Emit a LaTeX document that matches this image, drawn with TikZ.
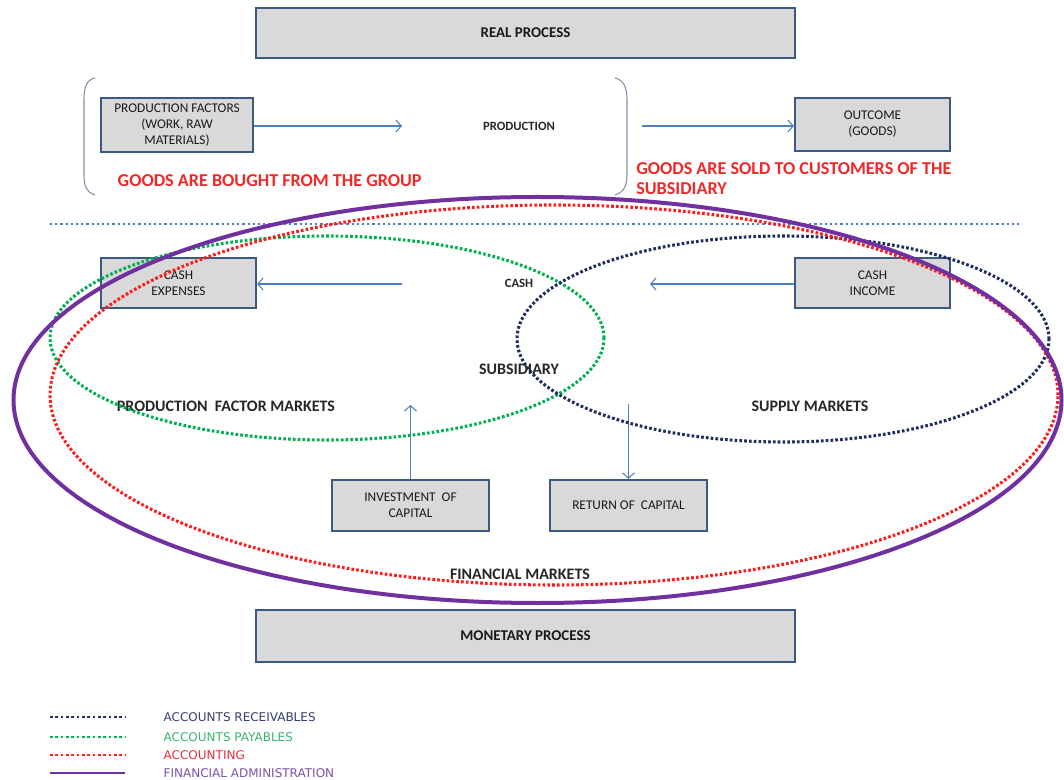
\documentclass[tikz,border=0pt]{standalone}
\usepackage{fontspec}
\setmainfont{Carlito}
\newfontfamily\legendfont{DejaVu Sans}
\usetikzlibrary{arrows.meta}

\definecolor{boxline}{HTML}{3B5A82}
\definecolor{boxfill}{HTML}{D9D9D9}
\definecolor{flowblue}{HTML}{4F81BD}
\definecolor{bracketcol}{HTML}{8090A8}
\definecolor{sepcol}{HTML}{4A7EBB}
\definecolor{recvcol}{HTML}{1F2D5C}
\definecolor{paycol}{HTML}{00B050}
\definecolor{acctcol}{HTML}{FF1A1A}
\definecolor{admincol}{HTML}{7030A0}
\definecolor{recvtxt}{HTML}{2F3F6E}
\definecolor{paytxt}{HTML}{3CB371}
\definecolor{accttxt}{HTML}{E8303A}
\definecolor{admintxt}{HTML}{7B52A8}
\definecolor{redlabel}{HTML}{F02828}

\tikzset{
  procbox/.style={draw=boxline, line width=1.6pt, fill=boxfill, inner sep=2pt,
    align=center, font=\fontsize{10}{12}\selectfont, text=black!90},
  bigbox/.style={procbox, font=\fontsize{11.2}{13}\selectfont\bfseries},
  flow/.style={draw=flowblue, line width=0.8pt, -{Straight Barb[length=4pt,width=9pt]}},
  bracket/.style={draw=bracketcol, line width=0.8pt},
  dotline/.style={line width=2.3pt, dash pattern=on 2pt off 1.6pt},
  bluelabel/.style={font=\fontsize{12}{14}\selectfont\bfseries, text=black!85},
  smalllabel/.style={font=\fontsize{9.5}{11.5}\selectfont\bfseries, text=black!85},
  redtext/.style={font=\fontsize{13.6}{15}\selectfont\bfseries, text=redlabel, align=left},
  legendtext/.style={font=\legendfont\fontsize{9}{10}\selectfont, anchor=west},
  legenddots/.style={line width=2pt, dash pattern=on 2pt off 2pt}
}

\begin{document}
\begin{tikzpicture}[x=0.75pt, y=-0.75pt]
\useasboundingbox (0,0) rectangle (1064,780);

% ---------- real process ----------
\node[bigbox, minimum width=404.25pt, minimum height=37.5pt] (real) at (525.5,33) {REAL PROCESS};

% brackets around the production step
\draw[bracket] (95,78) .. controls (86,80) and (84,88) .. (84,100) -- (84,175)
  .. controls (84,186) and (86,192) .. (95,195);
\draw[bracket] (615,78) .. controls (624,80) and (627,88) .. (627,100) -- (627,175)
  .. controls (627,186) and (624,192) .. (615,195);

\node[procbox, minimum width=114pt, minimum height=40.5pt] (pf) at (177,125)
  {PRODUCTION FACTORS\\(WORK, RAW\\MATERIALS)};
\node[smalllabel] (prod) at (519,126) {PRODUCTION};
\node[procbox, minimum width=116.25pt, minimum height=39.75pt] (outcome) at (872.5,124.5)
  {OUTCOME\\(GOODS)};

\coordinate (pfend) at (402,126);
\coordinate (outstart) at (642,126);
\draw[flow] (pf.east |- pfend) -- (pfend);
\draw[flow] (outstart) -- (outcome.west |- outstart);

\node[redtext, anchor=west] (bought) at (113,181) {GOODS ARE BOUGHT FROM THE GROUP};
\node[redtext, anchor=north west, inner sep=0pt] (sold) at (636,162)
  {GOODS ARE SOLD TO CUSTOMERS OF THE\\SUBSIDIARY};

% separator between the two processes
\coordinate (sepL) at (50,224);
\coordinate (sepR) at (1020,224);
\draw[sepcol, line width=1.7pt, dash pattern=on 1.7pt off 2.2pt] (sepL) -- (sepR);

% ---------- monetary process ----------
\node[procbox, minimum width=116.25pt, minimum height=37.5pt] (cexp) at (178.5,283)
  {CASH\\EXPENSES};
\node[procbox, minimum width=116.25pt, minimum height=37.5pt] (cinc) at (872.5,283)
  {CASH\\INCOME};
\node[smalllabel] (cash) at (519,283) {CASH};

\coordinate (cexpstart) at (402,284);
\coordinate (cincend) at (650,284);
\draw[flow] (cexpstart) -- (cexp.east |- cexpstart);
\draw[flow] (cinc.west |- cincend) -- (cincend);

\node[bluelabel] (subs) at (519,369) {SUBSIDIARY};
\node[bluelabel] (pfm) at (226,406) {PRODUCTION\ \ FACTOR MARKETS};
\node[bluelabel] (sm) at (810,406) {SUPPLY MARKETS};

\node[procbox, minimum width=117.75pt, minimum height=38.25pt] (invest) at (410.5,505.5)
  {INVESTMENT\ \ OF\\CAPITAL};
\node[procbox, minimum width=117.75pt, minimum height=38.25pt] (ret) at (628.5,505.5)
  {RETURN OF\ \ CAPITAL};

\coordinate (invend) at (410.5,405);
\coordinate (retstart) at (628.5,404);
\draw[flow] (invest.north) -- (invend);
\draw[flow] (retstart) -- (ret.north);

\node[bluelabel] (fm) at (520,574) {FINANCIAL MARKETS};

\node[bigbox, minimum width=404.25pt, minimum height=39pt] (money) at (525.5,636) {MONETARY PROCESS};

% ---------- areas of responsibility ----------
\draw[paycol, dotline] (327,338) ellipse [x radius=207.75pt, y radius=76.5pt];
\draw[recvcol, dotline] (783,339) ellipse [x radius=199.5pt, y radius=77.25pt];
\draw[acctcol, dotline] (554,395) ellipse [x radius=378pt, y radius=142.5pt];
\draw[admincol, line width=3pt] (537.5,400) ellipse [x radius=393pt, y radius=152.25pt];

% ---------- legend ----------
\coordinate (l1a) at (50,717);  \coordinate (l1b) at (125,717);
\coordinate (l2a) at (50,737);  \coordinate (l2b) at (125,737);
\coordinate (l3a) at (50,755);  \coordinate (l3b) at (125,755);
\coordinate (l4a) at (50,773);  \coordinate (l4b) at (125,773);
\draw[recvcol, legenddots] (l1a) -- (l1b);
\draw[paycol, legenddots] (l2a) -- (l2b);
\draw[acctcol, legenddots] (l3a) -- (l3b);
\draw[admincol, line width=2pt] (l4a) -- (l4b);
\node[legendtext, text=recvtxt] (t1) at (159,717) {ACCOUNTS RECEIVABLES};
\node[legendtext, text=paytxt] (t2) at (159,737) {ACCOUNTS PAYABLES};
\node[legendtext, text=accttxt] (t3) at (159,755) {ACCOUNTING};
\node[legendtext, text=admintxt] (t4) at (159,773) {FINANCIAL ADMINISTRATION};
\end{tikzpicture}
\end{document}
